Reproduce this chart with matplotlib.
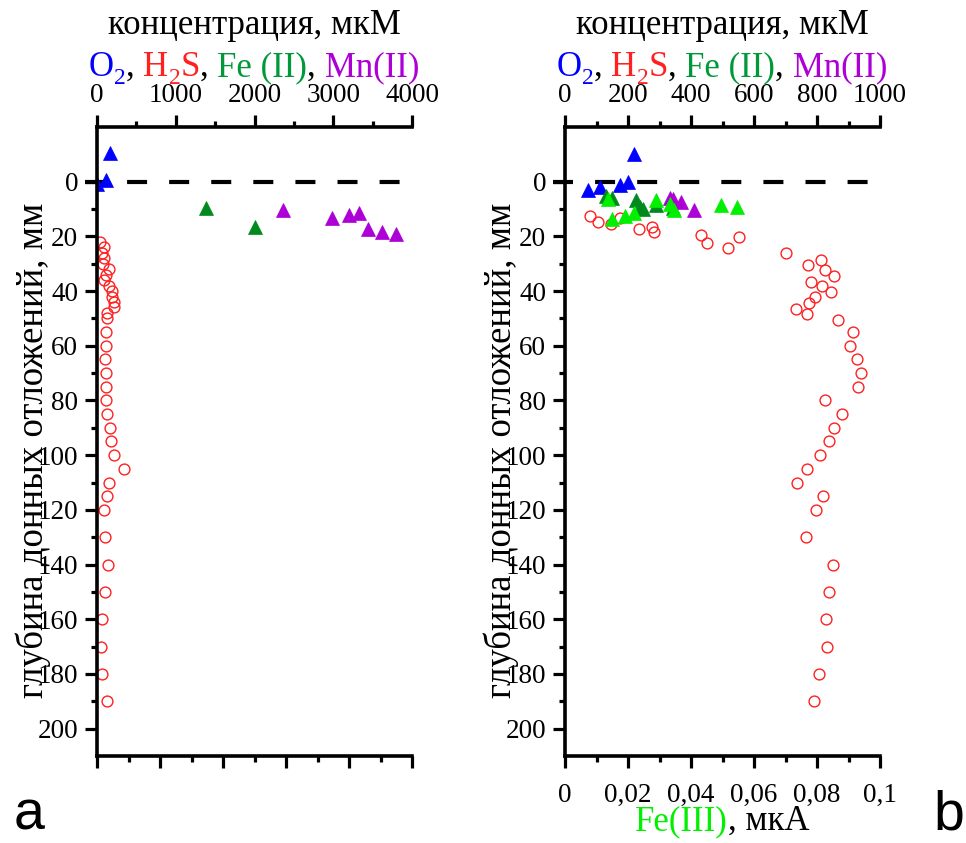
import numpy as np
import matplotlib
matplotlib.use('Agg')
import matplotlib.pyplot as plt

plt.rcParams['font.family'] = ['Liberation Serif', 'DejaVu Serif']

# ---------------- panel a data (concentration, uM vs depth, mm) ----------------
a_o2_conc = [0, 110, 165]
a_o2_depth = [1, -0.5, -10.5]
a_fe2_conc = [1384, 2006]
a_fe2_depth = [9.5, 16.5]
a_mn_conc = [2362, 2984, 3200, 3327, 3441, 3619, 3797]
a_mn_depth = [10.2, 13.2, 12.0, 11.3, 17.2, 18.3, 19.3]
a_h2s_depth = [22, 24, 26, 28, 30, 32, 34, 36, 38, 40, 42, 44, 46, 48, 50, 55, 60, 65,
               70, 75, 80, 85, 90, 95, 100, 105, 110, 115, 120, 130, 140, 150, 160, 170,
               180, 190]
a_h2s_conc = [38, 89, 60, 89, 72, 152, 110, 89, 152, 186, 195, 216, 216, 131, 131, 114,
              110, 102, 114, 114, 110, 123, 165, 174, 216, 347, 152, 131, 89, 102, 136,
              102, 60, 51, 67, 131]

# ---------------- panel b data ----------------
b_o2_conc = [72, 111, 175, 199, 219]
b_o2_depth = [3.1, 1.9, 1.3, 0.0, -10.0]
b_fe2_conc = [129, 148, 224, 238, 249, 289, 344]
b_fe2_depth = [5.2, 6.0, 6.8, 9.4, 10.0, 8.6, 9.5]
b_mn_conc = [333, 344, 368, 411]
b_mn_depth = [5.8, 6.4, 7.4, 10.4]
b_fe3_ua = [0.0138, 0.0148, 0.0190, 0.0220, 0.0289, 0.0333, 0.0346, 0.0495, 0.0545]
b_fe3_depth = [6.4, 13.5, 12.7, 11.6, 6.6, 8.2, 10.4, 8.6, 9.4]
b_h2s_conc = [79, 175, 106, 146, 275, 235, 284, 432, 552, 450, 517, 703, 813, 773, 826,
              855, 781, 815, 845, 794, 776, 733, 767, 868, 915, 905, 926, 939, 929, 826,
              880, 855, 839, 810, 767, 736, 820, 797, 764, 850, 839, 829, 833, 805, 790]
b_h2s_depth = [12.5, 13.4, 14.6, 15.5, 16.4, 17.4, 18.3, 19.4, 20.4, 22.5, 24.3, 26.2,
               28.5, 30.4, 32.4, 34.4, 36.5, 38.3, 40.4, 42.3, 44.4, 46.4, 48.4, 50.5,
               55, 60, 65, 70, 75, 80, 85, 90, 95, 100, 105, 110, 115, 120, 130, 140,
               150, 160, 170, 180, 190]

ua_ticks = [0, 0.02, 0.04, 0.06, 0.08, 0.1]
ua_labels = ['0', '0,02', '0,04', '0,06', '0,08', '0,1']

C_O2 = '#0000ff'
C_H2S = '#ff2020'
C_FE2 = '#008a1e'
C_FE2_TXT = '#00993a'
C_MN = '#ad00d6'
C_FE3 = '#00f000'

W, H = 966, 843
fig = plt.figure(figsize=(W / 100, H / 100), dpi=100)
TICK_FS = 19.5


def setup_panel(x0, x1, conc_max, conc_step, bottom_labels):
    ax = fig.add_axes([x0 / W, 1 - 756 / H, (x1 - x0) / W, (756 - 127) / H])
    ax.set_xlim(0, conc_max)
    ax.set_ylim(210, -20)

    # bottom axis: Fe(III) current scale (labels only on panel b)
    ax2 = ax.twiny()
    ax2.set_xlim(0, 0.1)
    ax2.xaxis.set_ticks_position('bottom')
    ax2.set_xticks(ua_ticks)
    ax2.set_xticks([0.01, 0.03, 0.05, 0.07, 0.09], minor=True)
    if bottom_labels:
        ax2.set_xticklabels(ua_labels)
    else:
        ax2.set_xticklabels([])
    for s in ['top', 'left', 'right']:
        ax2.spines[s].set_visible(False)
    ax2.spines['bottom'].set_visible(True)
    ax2.spines['bottom'].set_linewidth(2.6)
    ax2.tick_params(which='both', direction='out', width=2.3, labelsize=TICK_FS,
                    top=False, labeltop=False, bottom=True, labelbottom=bottom_labels)
    ax2.tick_params(which='major', length=8.5, pad=11)
    ax2.tick_params(which='minor', length=4.5)

    # top axis: concentration (twiny resets it to bottom, so set after)
    ax.xaxis.set_ticks_position('top')
    ax.xaxis.set_label_position('top')
    ax.set_xticks(np.arange(0, conc_max + 1, conc_step))
    ax.set_xticks(np.arange(conc_step / 2, conc_max, conc_step), minor=True)
    ax.set_yticks(np.arange(0, 201, 20))
    ax.set_yticks(np.arange(10, 200, 20), minor=True)
    ax.spines['right'].set_visible(False)
    ax.spines['bottom'].set_visible(False)
    for s in ['top', 'left']:
        ax.spines[s].set_linewidth(2.6)
    ax.tick_params(which='both', direction='out', width=2.3, labelsize=TICK_FS,
                   top=True, labeltop=True, bottom=False, labelbottom=False,
                   right=False, left=True)
    ax.tick_params(which='major', length=8.5, pad=5)
    ax.tick_params(which='minor', length=4.5)
    return ax, ax2


def colored_line(xc, y_base, pieces, size):
    """Draw a row of differently coloured text pieces centred at xc (pixels)."""
    renderer = fig.canvas.get_renderer()
    made = []
    total = 0
    for s, c, sub in pieces:
        fs = size * 0.68 if sub else size
        t = fig.text(0, 0, s, color=c, fontsize=fs, va='baseline', ha='left')
        w = t.get_window_extent(renderer).width
        made.append((t, w, sub))
        total += w
    x = xc - total / 2
    for t, w, sub in made:
        dy = size * 100 / 72 * 0.22 if sub else 0
        t.set_position((x / W, 1 - (y_base + dy) / H))
        x += w


def header(xc):
    fig.text(xc / W, 1 - 34 / H, 'концентрация, мкМ', fontsize=25,
             ha='center', va='baseline')
    colored_line(xc, 76, [('O', C_O2, False), ('2', C_O2, True), (', ', 'black', False),
                          ('H', C_H2S, False), ('2', C_H2S, True), ('S', C_H2S, False),
                          (', ', 'black', False), ('Fe (II)', C_FE2_TXT, False),
                          (', ', 'black', False), ('Mn(II)', C_MN, False)], 25)


TRI = dict(marker='^', linestyle='none', markersize=9.5, markeredgewidth=0.5)
CIRC = dict(marker='o', linestyle='none', markersize=7.8, markerfacecolor='none',
            markeredgecolor=C_H2S, markeredgewidth=1.0)
DASH = dict(color='black', linewidth=3, dashes=(4.8, 5.3), clip_on=False, zorder=1)

# ---------------- panel a ----------------
ax_a, ax_a2 = setup_panel(97, 412, 4000, 1000, False)
ax_a.plot([-152, 3960], [0, 0], **DASH)
ax_a.plot(a_h2s_conc, a_h2s_depth, **CIRC)
ax_a.plot(a_o2_conc, a_o2_depth, color=C_O2, **TRI)
ax_a.plot(a_fe2_conc, a_fe2_depth, color=C_FE2, **TRI)
ax_a.plot(a_mn_conc, a_mn_depth, color=C_MN, **TRI)

# ---------------- panel b ----------------
ax_b, ax_b2 = setup_panel(565, 880, 1000, 200, True)
ax_b.plot([-38, 1000], [0, 0], **DASH)
ax_b.plot(b_h2s_conc, b_h2s_depth, **CIRC)
ax_b.plot(b_o2_conc, b_o2_depth, color=C_O2, **TRI)
ax_b.plot(b_fe2_conc, b_fe2_depth, color=C_FE2, **TRI)
ax_b.plot(b_mn_conc, b_mn_depth, color=C_MN, **TRI)
ax_b2.plot(b_fe3_ua, b_fe3_depth, color=C_FE3, **TRI)

# ---------------- texts ----------------
header(254)
header(722)
for xl in (33, 501):
    fig.text(xl / W, 1 - 450 / H, 'глубина донных отложений, мм', fontsize=26.5,
             rotation=90, ha='center', va='center')
colored_line(722, 830, [('Fe(III)', C_FE3, False), (', мкА', 'black', False)], 25)
fig.text(14 / W, 1 - 829 / H, 'a', fontsize=40, family='Liberation Sans', va='baseline')
fig.text(933 / W, 1 - 829 / H, 'b', fontsize=40, family='Liberation Sans', va='baseline')

fig.savefig('out.png', dpi=100)
